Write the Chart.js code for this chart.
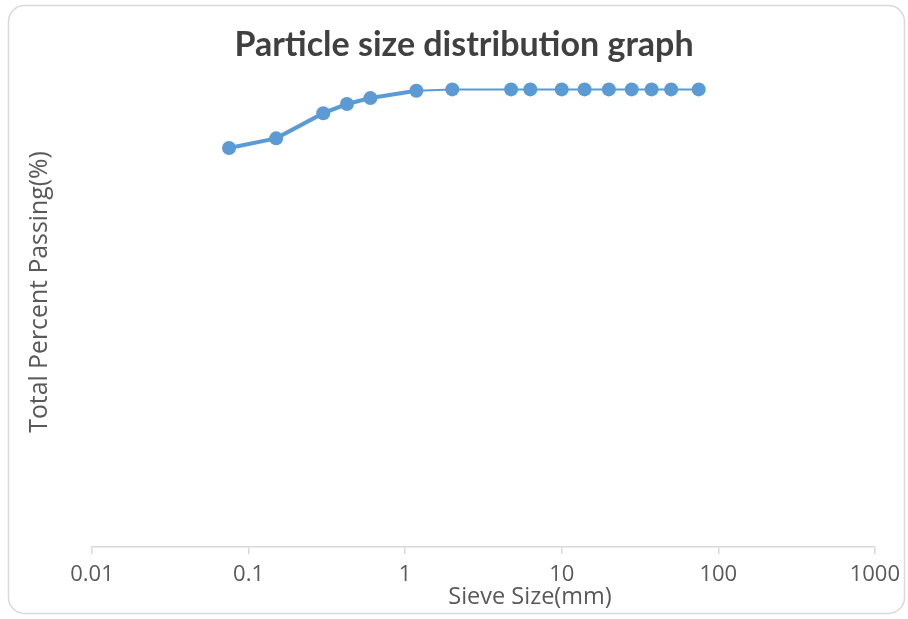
<!DOCTYPE html>
<html>
<head>
<meta charset="utf-8">
<script src="https://cdn.jsdelivr.net/npm/chart.js@4.4.1/dist/chart.umd.min.js"></script>
<style>
  html, body { margin: 0; padding: 0; background: #ffffff; }
  #wrap { width: 908px; height: 619px; position: relative; }
</style>
</head>
<body>
<div id="wrap"><canvas id="grafico" width="908" height="619"></canvas></div>
<script>
// Aberturas das peneiras (mm) e percentual passante
const peneiras = [0.075, 0.15, 0.3, 0.425, 0.6, 1.18, 2, 4.75, 6.3, 10, 14, 20, 28, 37.5, 50, 75];
const passante = [87.2, 89.3, 94.8, 96.8, 98.1, 99.7, 100, 100, 100, 100, 100, 100, 100, 100, 100, 100];
const marcasX = [0.01, 0.1, 1, 10, 100, 1000];

const titulo = 'Particle size distribution graph';
const tituloX = 'Sieve Size(mm)';
const tituloY = 'Total Percent Passing(%)';

const pontos = peneiras.map((p, i) => ({ x: p, y: passante[i] }));

// Moldura arredondada e os três títulos (principal, eixo X, eixo Y)
const moldura = {
  id: 'moldura',
  beforeDraw(chart) {
    const c = chart.ctx;
    c.save();
    c.fillStyle = '#ffffff';
    c.fillRect(0, 0, chart.width, chart.height);
    c.strokeStyle = '#d9d9d9';
    c.lineWidth = 1.5;
    c.beginPath();
    c.roundRect(8.5, 5.5, 896, 608, 16);
    c.stroke();
    c.restore();
  },
  afterDraw(chart) {
    const c = chart.ctx;
    c.save();
    c.textAlign = 'center';
    c.textBaseline = 'middle';

    c.font = 'bold 34px Lato';
    c.fillStyle = '#404040';
    c.fillText(titulo, 464, 45);

    c.font = '23.5px "Open Sans"';
    c.fillStyle = '#595959';
    c.fillText(tituloX, 530, 597);

    c.translate(40, 292);
    c.rotate(-Math.PI / 2);
    c.font = '24.8px "Open Sans"';
    c.fillText(tituloY, 0, 0);
    c.restore();
  }
};

new Chart(document.getElementById('grafico'), {
  type: 'scatter',
  data: {
    datasets: [{
      data: pontos,
      showLine: true,
      borderColor: '#5b9bd5',
      backgroundColor: '#5b9bd5',
      borderWidth: 2,
      pointRadius: 7,
      pointHoverRadius: 7,
      pointBorderWidth: 0,
      segment: {
        borderWidth: ctx => ctx.p0DataIndex < 5 ? 4 : 2
      },
      clip: false
    }]
  },
  options: {
    responsive: false,
    animation: false,
    layout: { padding: { left: 20, right: 33, top: 72, bottom: 0 } },
    plugins: {
      legend: { display: false },
      tooltip: { enabled: false },
      title: { display: false }
    },
    scales: {
      x: {
        type: 'logarithmic',
        min: 0.01,
        max: 1000,
        afterBuildTicks: scale => { scale.ticks = marcasX.map(v => ({ value: v })); },
        afterFit: scale => { scale.height = 72; },
        ticks: {
          color: '#595959',
          font: { family: 'Open Sans', size: 22 },
          padding: 8,
          maxRotation: 0,
          autoSkip: false,
          callback: v => String(v)
        },
        grid: {
          drawOnChartArea: false,
          color: '#d9d9d9',
          tickLength: 7,
          lineWidth: 1.5
        },
        border: { color: '#d9d9d9', width: 1.5 }
      },
      y: {
        min: 0,
        max: 103.8,
        afterFit: scale => { scale.width = 72; },
        ticks: { display: false },
        grid: { display: false },
        border: { display: false }
      }
    }
  },
  plugins: [moldura]
});
</script>
</body>
</html>
